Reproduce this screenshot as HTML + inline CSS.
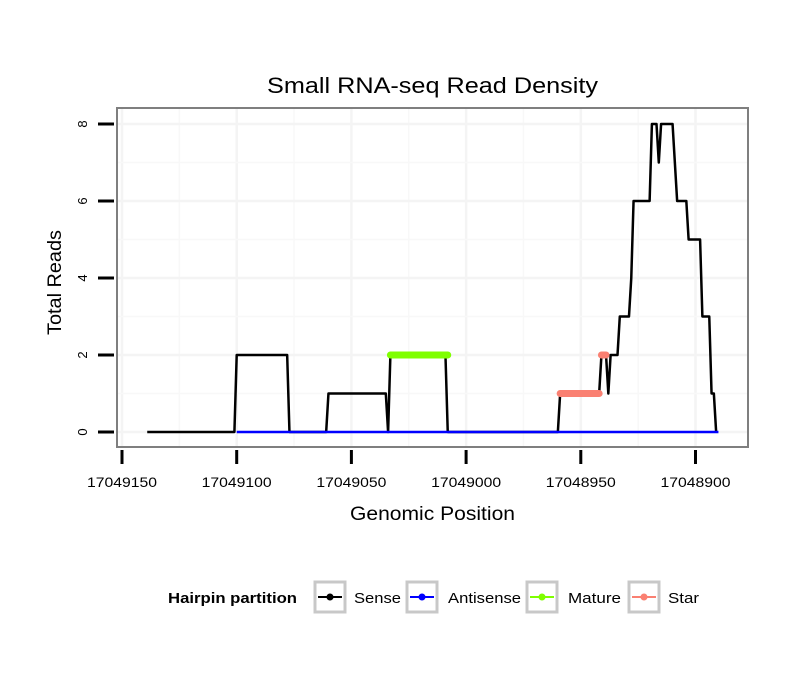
<!DOCTYPE html>
<html><head><meta charset="utf-8"><style>
body{margin:0;background:#fff;}
svg{display:block;font-family:"Liberation Sans",sans-serif;}
</style></head><body>
<svg id="chart" width="810" height="690">
<text x="267" y="93" textLength="331" lengthAdjust="spacingAndGlyphs" font-size="22">Small RNA-seq Read Density</text>
<g id="grid"></g>
<rect x="117" y="108" width="631" height="339" fill="none" stroke="#7f7f7f" stroke-width="2"/>
<g id="series"></g>
<g id="axes"></g>
<text x="350" y="520" textLength="165" lengthAdjust="spacingAndGlyphs" font-size="19">Genomic Position</text>
<text transform="translate(61,335) rotate(-90)" textLength="105" lengthAdjust="spacingAndGlyphs" font-size="19">Total Reads</text>
<g>
<text x="168" y="603" textLength="129" lengthAdjust="spacingAndGlyphs" font-size="15" font-weight="bold">Hairpin partition</text>
<g><rect x="315" y="582" width="30" height="30" fill="#fff" stroke="#c8c8c8" stroke-width="3"/><line x1="318" y1="597" x2="342" y2="597" stroke="#000" stroke-width="2"/><circle cx="330" cy="597" r="3.5" fill="#000"/><text x="354" y="603" textLength="47" lengthAdjust="spacingAndGlyphs" font-size="15">Sense</text></g>
<g><rect x="407" y="582" width="30" height="30" fill="#fff" stroke="#c8c8c8" stroke-width="3"/><line x1="410" y1="597" x2="434" y2="597" stroke="#0000ff" stroke-width="2"/><circle cx="422" cy="597" r="3.5" fill="#0000ff"/><text x="448" y="603" textLength="73" lengthAdjust="spacingAndGlyphs" font-size="15">Antisense</text></g>
<g><rect x="527" y="582" width="30" height="30" fill="#fff" stroke="#c8c8c8" stroke-width="3"/><line x1="530" y1="597" x2="554" y2="597" stroke="#7fff00" stroke-width="2"/><circle cx="542" cy="597" r="3.5" fill="#7fff00"/><text x="568" y="603" textLength="53" lengthAdjust="spacingAndGlyphs" font-size="15">Mature</text></g>
<g><rect x="629" y="582" width="30" height="30" fill="#fff" stroke="#c8c8c8" stroke-width="3"/><line x1="632" y1="597" x2="656" y2="597" stroke="#fa8072" stroke-width="2"/><circle cx="644" cy="597" r="3.5" fill="#fa8072"/><text x="668" y="603" textLength="31" lengthAdjust="spacingAndGlyphs" font-size="15">Star</text></g>
</g>
</svg>
<script>
const xTicks=[17049150,17049100,17049050,17049000,17048950,17048900];
const yTicks=[0,2,4,6,8];
const sensePos=[17049139,17049101,17049100,17049078,17049077,17049061,17049060,17049035,17049034,17049033,17049009,17049008,17048960,17048959,17048942,17048941,17048939,17048938,17048937,17048934,17048933,17048929,17048928,17048927,17048920,17048919,17048917,17048916,17048915,17048910,17048908,17048904,17048903,17048898,17048897,17048894,17048893,17048892,17048891];
const senseVal=[0,0,2,2,0,0,1,1,0,2,2,0,0,1,1,2,2,1,2,2,3,3,4,6,6,8,8,7,8,8,6,6,5,5,3,3,1,1,0];
const antisensePos=[17049100,17048890];
const antisenseVal=[0,0];
const maturePos=[17049033,17049008];
const matureVal=[2,2];
const starPos1=[17048959,17048942];
const starVal1=[1,1];
const starPos2=[17048941,17048939];
const starVal2=[2,2];
const NS="http://www.w3.org/2000/svg";
function X(p){return 122+(17049150-p)*2.294;}
function Y(v){return 432-v*38.5;}
function mk(tag,attrs,parent){const e=document.createElementNS(NS,tag);for(const k in attrs)e.setAttribute(k,attrs[k]);parent.appendChild(e);return e;}
const grid=document.getElementById('grid'),ser=document.getElementById('series'),ax=document.getElementById('axes');
for(let i=0;i<xTicks.length;i++){
  const x=X(xTicks[i]);
  const g=mk('line',{x1:x,x2:x,y1:109,y2:446,stroke:'#f4f4f4','stroke-width':2.5},grid);
  
  
  const xm=X(xTicks[i]-25);
  if(xm<748){const m=mk('line',{x1:xm,x2:xm,y1:109,y2:446,stroke:'#f8f8f8','stroke-width':1.5},grid);
  
  }
  const t=mk('line',{x1:x,x2:x,y1:450,y2:464,stroke:'#000','stroke-width':3},ax);
  
  
  const l=mk('text',{x:x-35,y:487,textLength:70,lengthAdjust:'spacingAndGlyphs','font-size':14},ax);
  l.textContent=xTicks[i];
  
  
}
for(let i=0;i<yTicks.length;i++){
  const y=Y(yTicks[i]);
  const g=mk('line',{x1:118,x2:747,y1:y,y2:y,stroke:'#f4f4f4','stroke-width':2.5},grid);
  
  
  const ym=Y(yTicks[i]+1);
  if(ym>108){const m=mk('line',{x1:118,x2:747,y1:ym,y2:ym,stroke:'#f8f8f8','stroke-width':1.5},grid);
  
  }
  const t=mk('line',{x1:98,x2:114,y1:y,y2:y,stroke:'#000','stroke-width':3},ax);
  
  
  const l=mk('text',{transform:`translate(87,${y}) rotate(-90)`,'text-anchor':'middle','font-size':13},ax);
  l.textContent=yTicks[i];
  
  
}
function path(pos,val,color,w,cap){return mk('polyline',{points:pos.map((p,i)=>X(p)+','+Y(val[i])).join(' '),fill:'none',stroke:color,'stroke-width':w,'stroke-linecap':cap,'stroke-linejoin':'round'},ser);}
const s=path(sensePos,senseVal,'#000',2.5,'butt');


const a=path(antisensePos,antisenseVal,'#0000ff',2.5,'butt');


const m=path(maturePos,matureVal,'#7fff00',7,'round');


const s1=path(starPos1,starVal1,'#fa8072',7,'round');


const s2=path(starPos2,starVal2,'#fa8072',7,'round');


</script>
</body></html>
